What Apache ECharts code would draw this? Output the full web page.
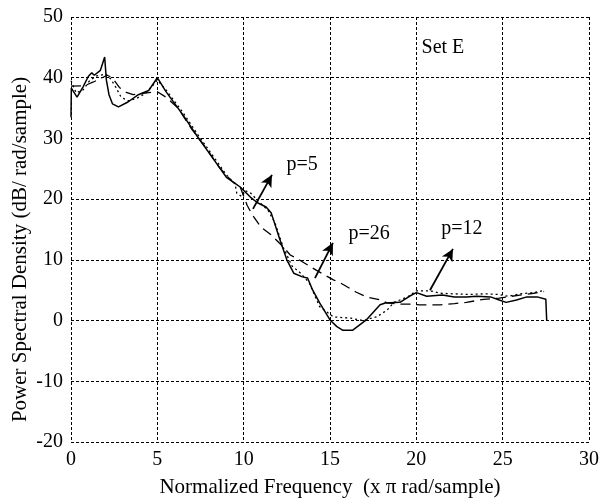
<!DOCTYPE html>
<html>
<head>
<meta charset="utf-8">
<script src="https://cdn.jsdelivr.net/npm/echarts@6/dist/echarts.min.js"></script>
<style>
html,body{margin:0;padding:0;background:#fff;}
#chart{width:600px;height:501px;}
</style>
</head>
<body>
<div id="chart"></div>
<script>
// p=26 (solid)
const p26=[[0,33.5],[0.02,38.3],[0.35,36.8],[0.7,38.5],[1.0,40.2],[1.2,40.8],[1.35,40.4],[1.7,41.2],[1.95,43.4],[2.05,39.6],[2.2,37.2],[2.4,35.7],[2.75,35.2],[3.3,36.0],[3.9,37.2],[4.5,37.9],[5.0,40.0],[5.5,37.7],[6.5,33.8],[7.3,30.4],[8.2,26.8],[9.0,23.6],[9.5,22.6],[9.8,22.0],[10.4,20.3],[10.8,19.4],[11.3,18.7],[11.6,17.7],[12.1,13.3],[12.5,10.0],[12.9,7.8],[13.4,7.2],[13.7,7.0],[14.0,5.0],[14.4,2.9],[15.0,0.1],[15.4,-1.0],[15.75,-1.6],[16.3,-1.6],[17.1,0.1],[17.9,2.6],[18.2,2.9],[19.05,3.0],[19.6,4.0],[20.0,4.6],[20.6,4.0],[21.5,4.2],[22.2,3.9],[22.9,3.9],[23.5,4.0],[24.3,3.9],[24.8,3.4],[25.2,3.0],[25.8,3.4],[26.4,3.9],[27.0,3.9],[27.5,3.5],[27.55,0]];
// p=12 (dotted)
const p12=[[0,39.5],[0.3,37.5],[0.7,38.0],[1.1,39.6],[1.5,40.3],[2.0,40.6],[2.3,39.8],[2.6,38.4],[2.9,36.8],[3.3,36.2],[3.8,36.6],[4.3,37.4],[4.7,38.6],[5.0,39.6],[5.5,38.0],[6.5,34.2],[7.3,30.8],[8.2,27.2],[9.0,24.0],[9.5,22.5],[9.6,21.0],[9.9,20.4],[10.1,21.4],[10.4,21.0],[10.8,19.8],[11.4,18.2],[11.8,16.2],[12.3,12.0],[12.8,9.0],[13.3,7.8],[13.8,6.2],[14.4,2.3],[15.2,0.6],[16.2,0.4],[16.9,0.0],[17.7,0.6],[18.3,1.7],[18.7,3.0],[19.5,3.9],[20.0,4.9],[20.8,4.9],[21.4,4.5],[22.2,4.4],[23.0,4.3],[24.0,4.4],[24.8,4.3],[25.3,4.0],[26.0,4.4],[26.8,4.6],[27.3,4.9]];
// p=5 (dashed)
const p5=[[0,38.6],[0.8,38.7],[1.3,39.3],[1.8,40.0],[2.1,40.4],[2.4,40.0],[2.8,38.4],[3.2,37.6],[3.6,37.2],[4.4,37.5],[5.0,37.7],[5.5,36.8],[6.2,35.0],[7.0,31.5],[7.8,28.5],[8.6,25.2],[9.3,23.0],[9.8,22.0],[10.2,19.0],[10.5,17.4],[11.0,15.4],[11.6,14.1],[12.3,12.1],[12.7,10.8],[13.1,10.2],[13.8,9.0],[14.2,8.3],[15.2,6.7],[15.6,6.2],[16.5,4.7],[17.1,3.9],[17.9,3.4],[18.3,2.9],[19.0,2.7],[19.6,2.7],[20.2,2.6],[21.4,2.6],[22.2,2.8],[22.9,3.0],[23.9,3.5],[24.8,3.7],[26.0,4.2],[26.8,4.5],[27.4,4.8]];

// annotation arrows [from, to] and labels
const arrows=[[[10.54,18.4],[11.64,24.0]],[[14.13,7.0],[15.17,12.8]],[[20.79,5.0],[22.12,11.8]]];
const labels=[['p=5',13.38,25.6],['p=26',17.26,14.25],['p=12',22.64,15.1],['Set E',21.54,44.9]];

const FONT='"Liberation Serif","DejaVu Serif",serif';
const chart=echarts.init(document.getElementById('chart'));

const gridLine={show:true,lineStyle:{color:'#000',type:[3,2],width:1}};

chart.setOption({
    animation:false,
    backgroundColor:'#fff',
    grid:{left:71,right:11,top:17,bottom:59,outerBoundsMode:'none'},
    xAxis:{type:'value',min:0,max:30,interval:5,
        name:'Normalized Frequency  (x \u03c0 rad/sample)',nameLocation:'middle',nameGap:35,
        nameMoveOverlap:false,
        nameTextStyle:{fontFamily:FONT,fontSize:21,color:'#000'},
        axisLine:{show:false},axisTick:{show:false},
        axisLabel:{fontFamily:FONT,fontSize:20,color:'#000',margin:8},
        splitLine:gridLine},
    yAxis:{type:'value',min:-20,max:50,interval:10,
        name:'Power Spectral Density (dB/ rad/sample)',nameLocation:'middle',nameGap:40,
        nameMoveOverlap:false,
        nameTextStyle:{fontFamily:FONT,fontSize:21,color:'#000',padding:[0,40,0,0]},
        axisLine:{show:false},axisTick:{show:false},
        axisLabel:{fontFamily:FONT,fontSize:20,color:'#000',margin:8},
        splitLine:gridLine},
    series:[
        {type:'line',data:p26,showSymbol:false,lineStyle:{color:'#000',width:1.5,type:'solid'},
         markLine:{silent:true,symbol:['none','arrow'],symbolSize:[9,12],label:{show:false},
            lineStyle:{color:'#000',width:1.8,type:'solid'},
            data:arrows.map(a=>[{coord:a[0]},{coord:a[1]}])},
         markPoint:{silent:true,symbol:'circle',symbolSize:0,
            label:{show:true,position:'inside',formatter:'{b}',fontFamily:FONT,fontSize:20,color:'#000'},
            data:labels.map(l=>({name:l[0],coord:[l[1],l[2]]}))}},
        {type:'line',data:p12,showSymbol:false,lineStyle:{color:'#000',width:1.3,type:[2,3]}},
        {type:'line',data:p5,showSymbol:false,lineStyle:{color:'#000',width:1.3,type:[10,6]}}
    ]
});
</script>
</body>
</html>
